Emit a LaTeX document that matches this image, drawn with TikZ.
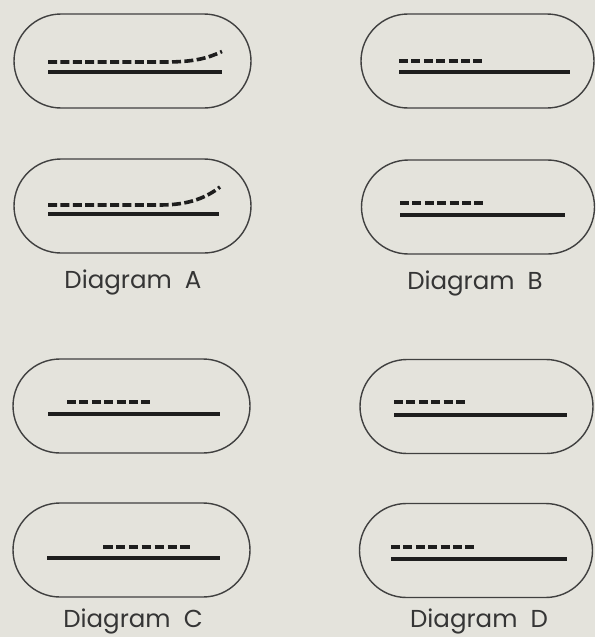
\documentclass[tikz,border=0pt]{standalone}
\usepackage{fontspec}
\setmainfont{Poppins}
\usetikzlibrary{shapes.misc}
\definecolor{paper}{HTML}{E4E3DC}
\definecolor{ink}{HTML}{1E1E1E}
\begin{document}
\begin{tikzpicture}[x=1pt,y=-1pt,
  capsule/.style={rounded rectangle, draw=ink!85, line width=1.4pt, minimum height=94pt, inner sep=0pt},
  leftcap/.style={capsule, minimum width=237pt},
  rightcap/.style={capsule, minimum width=233pt},
  strand/.style={draw=ink, line width=3.6pt},
  dstrand/.style={draw=ink, line width=3.6pt, dash pattern=on 9pt off 3.4pt},
  caption/.style={anchor=base, font=\fontsize{24.5}{28}\selectfont, text=ink!90}]
\fill[paper] (0,0) rectangle (595,637);
\useasboundingbox (0,0) rectangle (595,637);
% capsules
\node[leftcap]  (A1) at (132.5,61) {};
\node[leftcap]  (A2) at (132.5,206) {};
\node[rightcap] (B1) at (477.5,61) {};
\node[rightcap] (B2) at (478,207) {};
\node[leftcap]  (C1) at (131.5,406) {};
\node[rightcap] (D1) at (476.5,406.5) {};
\node[leftcap]  (C2) at (131.5,550) {};
\node[rightcap] (D2) at (476,550.5) {};
% Diagram A
\draw[strand] (48,72) -- (222,72);
\draw[dstrand] (48,62) -- (165,62) .. controls (195,62) and (208,58) .. (222,51.5);
\draw[strand] (48,214) -- (219,214);
\draw[dstrand] (48,205) -- (160,205) .. controls (190,205) and (207,197) .. (220,187);
% Diagram B
\draw[strand] (399,72) -- (570,72);
\draw[dstrand] (399,61) -- (482.4,61);
\draw[strand] (400,215) -- (565,215);
\draw[dstrand] (400,203) -- (483.4,203);
% Diagram C
\draw[strand] (48,414) -- (220,414);
\draw[dstrand] (67,402) -- (150.4,402);
\draw[strand] (47,558) -- (220,558);
\draw[dstrand, dash pattern=on 9.5pt off 3.4pt] (103,547) -- (189.9,547);
% Diagram D
\draw[strand] (394,415) -- (567,415);
\draw[dstrand] (394,402) -- (465,402);
\draw[strand] (391,559) -- (567,559);
\draw[dstrand] (391,547) -- (474.4,547);
% captions
\node[caption] (la) at (133,288) {Diagram\ \ A};
\node[caption] (lb) at (475,289) {Diagram\ \ B};
\node[caption] (lc) at (133,627) {Diagram\ \ C};
\node[caption] (ld) at (479,627) {Diagram\ \ D};
\end{tikzpicture}
\end{document}
